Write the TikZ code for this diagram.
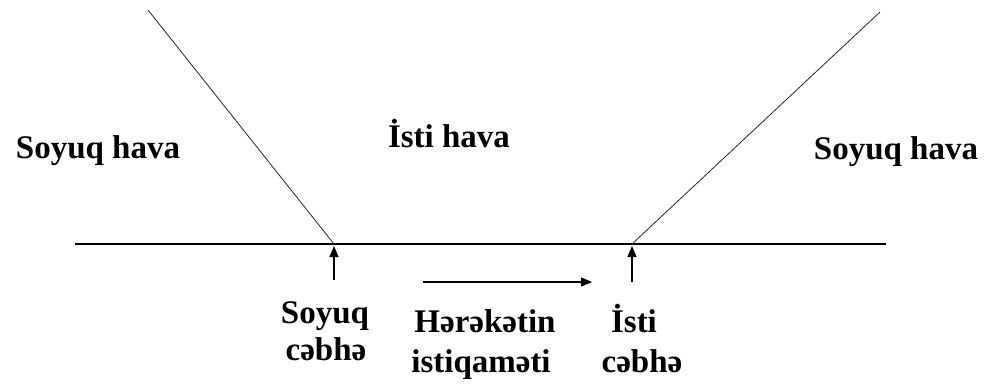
\documentclass[tikz,border=0pt]{standalone}
\usepackage{fontspec}
\setmainfont{Liberation Serif}
\usetikzlibrary{arrows.meta}
\begin{document}
\begin{tikzpicture}[x=1pt,y=-1pt,
  lbl/.style={font=\bfseries\fontsize{33}{36}\selectfont, inner sep=0pt, anchor=base},
  front/.style={line width=0.8pt, draw=black!85},
  ground/.style={line width=2.6pt},
  up/.style={line width=1.1pt, -{Triangle[length=11pt,width=9pt]}}]
\useasboundingbox (0,0) rectangle (991,385);

% ground line and the two frontal surfaces
\coordinate (gL) at (75,244);
\coordinate (gR) at (886,244);
\coordinate (cf) at (334,244);
\coordinate (wf) at (632,244);
\coordinate (cfTop) at (148,10);
\coordinate (wfTop) at (880,12);
\draw[ground] (gL) -- (gR);
\draw[front] (cfTop) -- (cf);
\draw[front] (wf) -- (wfTop);

% markers under the fronts
\coordinate (cfBase) at (334,280);
\coordinate (cfTip) at (334,246);
\coordinate (wfBase) at (632,282);
\coordinate (wfTip) at (632,246);
\draw[up] (cfBase) -- (cfTip);
\draw[up] (wfBase) -- (wfTip);

% direction of motion
\coordinate (mvA) at (423,282);
\coordinate (mvB) at (592,282);
\draw[up] (mvA) -- (mvB);

% air masses
\node[lbl] (coldL) at (98,159) {Soyuq hava};
\node[lbl] (warm) at (449,148) {İsti hava};
\node[lbl] (coldR) at (896,160) {Soyuq hava};

% front labels
\node[lbl] (cf1) at (325,323) {Soyuq};
\node[lbl] (cf2) at (326,360) {cəbhə};
\node[lbl] (mv1) at (485,332) {Hərəkətin};
\node[lbl] (mv2) at (481,372) {istiqaməti};
\node[lbl] (wf1) at (634,332) {İsti};
\node[lbl] (wf2) at (642,372) {cəbhə};
\end{tikzpicture}
\end{document}
